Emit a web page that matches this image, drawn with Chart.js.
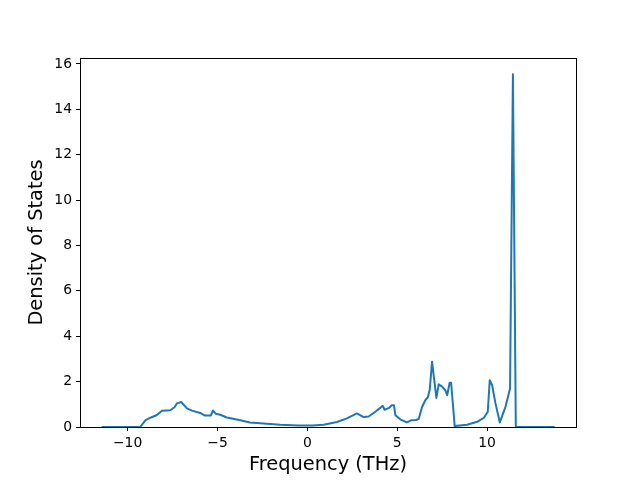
<!DOCTYPE html>
<html>
<head>
<meta charset="utf-8">
<script src="https://cdn.jsdelivr.net/npm/chart.js@4.4.1/dist/chart.umd.min.js"></script>
<style>
  body { margin: 0; background: #fff; }
  canvas { display: block; }
</style>
</head>
<body>
<canvas id="dosChart" width="640" height="480"></canvas>
<script>
// phonon density of states
const freq = [-11.4, -9.3, -9.0, -8.7, -8.37, -8.09, -7.63, -7.39, -7.26, -7.02, -6.7, -6.42, -5.96, -5.73, -5.36, -5.25, -5.09, -4.85, -4.48, -3.73, -3.2, -2.62, -1.5, -0.5, 0.3, 0.9, 1.65, 2.2, 2.76, 3.13, 3.41, 3.78, 4.2, 4.3, 4.52, 4.7, 4.82, 4.9, 5.17, 5.54, 5.8, 6.05, 6.2, 6.38, 6.57, 6.7, 6.81, 6.94, 7.18, 7.31, 7.5, 7.68, 7.78, 7.92, 8.0, 8.2, 8.89, 9.45, 9.82, 10.04, 10.15, 10.28, 10.47, 10.71, 11.03, 11.28, 11.44, 11.6, 11.7, 13.72];
const dos = [0, 0, 0.3, 0.42, 0.53, 0.72, 0.74, 0.87, 1.04, 1.1, 0.82, 0.72, 0.62, 0.51, 0.51, 0.73, 0.58, 0.54, 0.42, 0.3, 0.2, 0.17, 0.1, 0.07, 0.07, 0.1, 0.22, 0.38, 0.6, 0.44, 0.46, 0.67, 0.93, 0.76, 0.83, 0.96, 0.96, 0.52, 0.34, 0.2, 0.3, 0.31, 0.36, 0.87, 1.19, 1.3, 1.63, 2.88, 1.28, 1.88, 1.78, 1.62, 1.4, 1.95, 1.95, 0.04, 0.1, 0.23, 0.4, 0.67, 2.06, 1.85, 1.04, 0.2, 0.9, 1.7, 15.54, 0.02, 0, 0];

const xTicks = [-10, -5, 0, 5, 10];
const yTicks = [0, 2, 4, 6, 8, 10, 12, 14, 16];

const points = freq.map((f, i) => ({x: f, y: dos[i]}));

// matplotlib uses a real minus sign
const fmt = (v) => String(v).replace('-', '\u2212');

// box around the plot area, like matplotlib spines
const frame = {
    id: 'frame',
    afterDraw(chart) {
        const a = chart.chartArea;
        const ctx = chart.ctx;
        ctx.save();
        ctx.strokeStyle = '#000';
        ctx.lineWidth = 1;
        ctx.strokeRect(Math.round(a.left) + 0.5, Math.round(a.top) + 0.5,
            Math.round(a.right - a.left), Math.round(a.bottom - a.top));
        ctx.restore();
    }
};

const tickFont = {family: 'DejaVu Sans', size: 13.9};
const titleFont = {family: 'DejaVu Sans', size: 19.4};

new Chart(document.getElementById('dosChart').getContext('2d'), {
    type: 'scatter',
    data: {
        datasets: [{
            data: points,
            showLine: true,
            borderColor: '#1f77b4',
            borderWidth: 2,
            borderJoinStyle: 'round',
            borderCapStyle: 'round',
            pointRadius: 0,
            tension: 0,
            fill: false
        }]
    },
    options: {
        responsive: false,
        animation: false,
        layout: {
            padding: {top: 58, right: 64, left: 0, bottom: 0}
        },
        plugins: {
            legend: {display: false},
            tooltip: {enabled: false}
        },
        scales: {
            x: {
                type: 'linear',
                min: -12.65,
                max: 14.95,
                afterBuildTicks: (axis) => { axis.ticks = xTicks.map(v => ({value: v})); },
                afterFit: (axis) => { axis.height = 53; },
                grid: {
                    drawOnChartArea: false,
                    drawTicks: true,
                    tickLength: 4,
                    tickColor: '#000'
                },
                border: {display: true, color: '#000'},
                ticks: {
                    color: '#000',
                    font: tickFont,
                    padding: 4,
                    maxRotation: 0,
                    callback: (v) => fmt(v)
                },
                title: {
                    display: true,
                    text: 'Frequency (THz)',
                    color: '#000',
                    font: titleFont,
                    padding: {top: 0, bottom: 3}
                }
            },
            y: {
                type: 'linear',
                min: 0,
                max: 16.26,
                afterBuildTicks: (axis) => { axis.ticks = yTicks.map(v => ({value: v})); },
                afterFit: (axis) => { axis.width = 80; },
                grid: {
                    drawOnChartArea: false,
                    drawTicks: true,
                    tickLength: 4,
                    tickColor: '#000'
                },
                border: {display: true, color: '#000'},
                ticks: {
                    color: '#000',
                    font: tickFont,
                    padding: 4,
                    callback: (v) => fmt(v)
                },
                title: {
                    display: true,
                    text: 'Density of States',
                    color: '#000',
                    font: titleFont,
                    padding: {top: 25, bottom: 0}
                }
            }
        }
    },
    plugins: [frame]
});
</script>
</body>
</html>
